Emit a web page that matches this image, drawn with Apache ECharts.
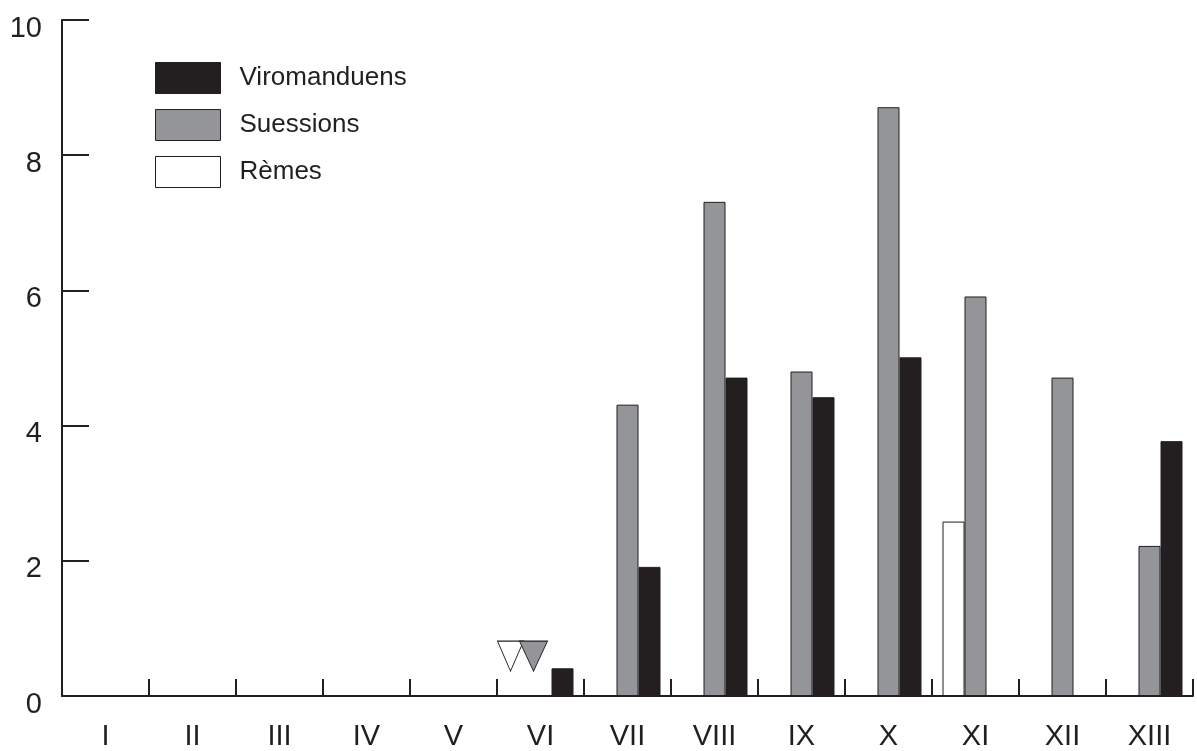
<!DOCTYPE html>
<html>
<head>
<meta charset="utf-8">
<script src="https://cdn.jsdelivr.net/npm/echarts@6/dist/echarts.min.js"></script>
<style>
html,body{margin:0;padding:0;background:#fff;}
#chart{width:1197px;height:751px;}
</style>
</head>
<body>
<div id="chart"></div>
<script>
const categories = ['I','II','III','IV','V','VI','VII','VIII','IX','X','XI','XII','XIII'];
const remes =        [null,null,null,null,null,null,null,null,null,null,2.58,null,null];
const suessions =    [null,null,null,null,null,null,4.31,7.31,4.8,8.71,5.91,4.71,2.22];
const viromanduens = [null,null,null,null,null,0.41,1.91,4.71,4.42,5.01,null,null,3.77];
const remesMarker = [['VI', 0.59]];
const suessionsMarker = [['VI', 0.59]];
const yTicks = [0, 2, 4, 6, 8, 10];

const ink = '#231f20';
const grey = '#939598';
const font = "'Liberation Sans', Arial, Helvetica, sans-serif";

const chart = echarts.init(document.getElementById('chart'), null, {renderer: 'canvas'});
chart.setOption({
  animation: false,
  backgroundColor: '#ffffff',
  grid: {left: 62, right: 4, top: 20, bottom: 54},
  legend: {
    orient: 'vertical',
    left: 155,
    top: 62,
    padding: 0,
    itemWidth: 65,
    itemHeight: 31,
    itemGap: 15,
    icon: 'rect',
    data: ['Viromanduens', 'Suessions', 'Rèmes'],
    itemStyle: {borderColor: ink, borderWidth: 1},
    textStyle: {fontFamily: font, fontSize: 26, color: ink, padding: [0, 0, 0, 14]}
  },
  xAxis: {
    type: 'category',
    data: categories,
    boundaryGap: true,
    axisLine: {lineStyle: {color: ink, width: 2}},
    axisTick: {show: true, inside: true, length: 17, alignWithLabel: false, lineStyle: {color: ink, width: 2}},
    axisLabel: {fontFamily: font, fontSize: 29, color: ink, margin: 26, interval: 0}
  },
  yAxis: {
    type: 'value',
    min: 0,
    max: 10,
    interval: 2,
    splitLine: {show: false},
    axisLine: {show: true, lineStyle: {color: ink, width: 2}},
    axisTick: {show: true, inside: true, length: 27, lineStyle: {color: ink, width: 2}},
    axisLabel: {fontFamily: font, fontSize: 29, color: ink, margin: 20, verticalAlign: 'top', lineHeight: 17,
      formatter: function (v) { return yTicks.indexOf(v) >= 0 ? String(v) : ''; }}
  },
  series: [
    {
      name: 'Rèmes', type: 'bar', data: remes, barWidth: 22, barGap: '0%',
      itemStyle: {color: '#ffffff', borderColor: ink, borderWidth: 1}
    },
    {
      name: 'Suessions', type: 'bar', data: suessions, barWidth: 22, barGap: '0%',
      itemStyle: {color: grey, borderColor: ink, borderWidth: 1}
    },
    {
      name: 'Viromanduens', type: 'bar', data: viromanduens, barWidth: 22, barGap: '0%',
      itemStyle: {color: ink, borderColor: ink, borderWidth: 1}
    },
    {
      name: 'Rèmes-marker', type: 'scatter', data: remesMarker,
      symbol: 'triangle', symbolRotate: 180, symbolSize: [26, 30], symbolOffset: [-30, 0],
      itemStyle: {color: '#ffffff', borderColor: ink, borderWidth: 1, opacity: 1}
    },
    {
      name: 'Suessions-marker', type: 'scatter', data: suessionsMarker,
      symbol: 'triangle', symbolRotate: 180, symbolSize: [28, 30], symbolOffset: [-7, 0],
      itemStyle: {color: grey, borderColor: ink, borderWidth: 1, opacity: 1}
    }
  ]
});
</script>
</body>
</html>
